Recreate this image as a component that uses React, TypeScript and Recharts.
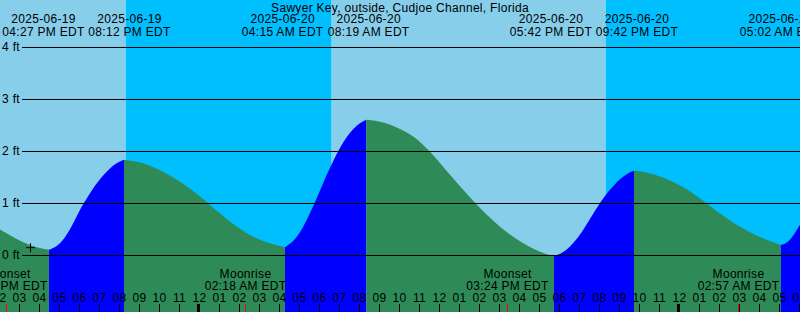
import React from "react"
import {
  ComposedChart,
  Area,
  XAxis,
  YAxis,
  ReferenceArea,
  ReferenceLine,
  ReferenceDot,
} from "recharts"

const WIDTH = 800
const HEIGHT = 312
const FONT = "'Liberation Sans', Arial, sans-serif"

const SKY_DAY = "#87ceeb"
const SKY_NIGHT = "#00bfff"
const RISING = "#0000ff"
const FALLING = "#2e8b57"

const title = "Sawyer Key, outside, Cudjoe Channel, Florida"

// hours relative to 2025-06-20 00:00 EDT
const X_DOMAIN: [number, number] = [-10, 30]
const Y_DOMAIN: [number, number] = [-1.087, 4.913]

// tide height
const tideHours = [
  -10, -9.5, -9, -8.5, -8, -7.55,
  -7.25, -6.92, -6.67, -6.42, -6.17, -5.92, -5.5, -5.17, -4.83, -4.5, -4.17, -3.8,
  -3, -2.5, -1.67, -0.83, 0, 0.5, 1, 1.5, 2, 2.5, 3, 3.5, 4, 4.25,
  4.67, 5, 5.33, 5.67, 6, 6.33, 6.67, 7, 7.33, 7.67, 8, 8.317,
  9, 9.67, 10.5, 11, 11.5, 12, 12.5, 13, 13.5, 14, 14.5, 15, 15.5, 16, 16.5, 17, 17.35, 17.7,
  18, 18.5, 19, 19.5, 20, 20.5, 21, 21.5, 21.7,
  22.5, 23.33, 24.17, 25, 25.83, 26.67, 27.5, 28.33, 29.033,
  29.33, 29.67, 30,
]
const tideFeet = [
  0.5, 0.39, 0.28, 0.2, 0.14, 0.11,
  0.15, 0.26, 0.39, 0.56, 0.75, 0.94, 1.2, 1.39, 1.55, 1.68, 1.78, 1.84,
  1.8, 1.73, 1.58, 1.38, 1.14, 0.97, 0.81, 0.65, 0.51, 0.39, 0.3, 0.23, 0.18, 0.16,
  0.27, 0.43, 0.68, 0.95, 1.25, 1.55, 1.83, 2.07, 2.28, 2.44, 2.55, 2.61,
  2.58, 2.5, 2.34, 2.19, 2.0, 1.78, 1.55, 1.33, 1.12, 0.91, 0.72, 0.55, 0.4, 0.27, 0.16, 0.07, 0.02, 0.0,
  0.02, 0.16, 0.39, 0.7, 1.02, 1.27, 1.48, 1.61, 1.63,
  1.59, 1.48, 1.32, 1.1, 0.85, 0.62, 0.44, 0.3, 0.2,
  0.23, 0.38, 0.59,
]

const extremeHours = [-7.55, -3.8, 4.25, 8.317, 17.7, 21.7, 29.033]
const extremeKinds = ["L", "H", "L", "H", "L", "H", "L"]
const extremeDates = [
  "2025-06-19", "2025-06-19", "2025-06-20", "2025-06-20", "2025-06-20", "2025-06-20", "2025-06-21",
]
const extremeTimes = [
  "04:27 PM EDT", "08:12 PM EDT", "04:15 AM EDT", "08:19 AM EDT", "05:42 PM EDT", "09:42 PM EDT", "05:02 AM EDT",
]

// sunset / sunrise edges of the sky bands
const skyEdges = [-10, -3.717, 6.583, 20.283, 30]
const skyIsDay = [true, false, true, false]

const moonHours = [-9.65, 2.3, 15.4, 26.95]
const moonNames = ["Moonset", "Moonrise", "Moonset", "Moonrise"]
const moonTimes = ["02:21 PM EDT", "02:18 AM EDT", "03:24 PM EDT", "02:57 AM EDT"]

const feetTicks = [0, 1, 2, 3, 4]
const hourTicks = [
  -10, -9, -8, -7, -6, -5, -4, -3, -2, -1, 0, 1, 2, 3, 4, 5, 6, 7, 8, 9, 10,
  11, 12, 13, 14, 15, 16, 17, 18, 19, 20, 21, 22, 23, 24, 25, 26, 27, 28, 29, 30,
]

const nowHour = -8.475
const nowFeet = 0.15

const textStyle = { fontFamily: FONT, fontSize: 12, fill: "#000", letterSpacing: 0.3 }

function hourLabel(h: number) {
  const hod = ((h % 24) + 24) % 24
  const h12 = hod % 12 === 0 ? 12 : hod % 12
  return String(h12).padStart(2, "0")
}

// rising / falling split, extremes belong to both sides
const rows = tideHours.map((t, i) => {
  const v = tideFeet[i]
  const atExtreme = extremeHours.some((e) => Math.abs(e - t) < 1e-6)
  if (atExtreme) return { t, rise: v, fall: v }
  const next = extremeHours.findIndex((e) => e > t)
  const rising =
    next >= 0 ? extremeKinds[next] === "H" : extremeKinds[extremeKinds.length - 1] === "L"
  return { t, rise: rising ? v : null, fall: rising ? null : v }
})

// push the event labels apart so they don't overlap
const LABEL_W = 86
const PX_PER_HOUR = WIDTH / (X_DOMAIN[1] - X_DOMAIN[0])
const labelShift = (() => {
  const centers = extremeHours.map((h) => h * PX_PER_HOUR)
  const shift = extremeHours.map(() => 0)
  for (let i = 1; i < centers.length; i++) {
    const gap = centers[i] + shift[i] - (centers[i - 1] + shift[i - 1])
    if (gap < LABEL_W) {
      const d = (LABEL_W - gap) / 2
      shift[i - 1] -= d
      shift[i] += d
    }
  }
  return shift
})()

export default function App() {
  return (
    <div style={{ position: "absolute", left: 0, top: 0, width: WIDTH, height: HEIGHT }}>
      <ComposedChart
        width={WIDTH}
        height={HEIGHT}
        data={rows}
        margin={{ top: 0, right: 0, bottom: 0, left: 0 }}
      >
        <XAxis dataKey="t" type="number" domain={X_DOMAIN} allowDataOverflow hide />
        <YAxis type="number" domain={Y_DOMAIN} allowDataOverflow hide />

        {skyIsDay.map((day, i) => (
          <ReferenceArea
            key={`sky${i}`}
            x1={skyEdges[i]}
            x2={skyEdges[i + 1]}
            y1={Y_DOMAIN[0]}
            y2={Y_DOMAIN[1]}
            fill={day ? SKY_DAY : SKY_NIGHT}
            fillOpacity={1}
            stroke="none"
            ifOverflow="visible"
            zIndex={-150}
          />
        ))}

        <Area
          dataKey="rise"
          type="basis"
          baseValue="dataMin"
          fill={RISING}
          fillOpacity={1}
          stroke="none"
          isAnimationActive={false}
          activeDot={false}
          dot={false}
        />
        <Area
          dataKey="fall"
          type="basis"
          baseValue="dataMin"
          fill={FALLING}
          fillOpacity={1}
          stroke="none"
          isAnimationActive={false}
          activeDot={false}
          dot={false}
        />

        {feetTicks.map((v) => (
          <ReferenceLine
            key={`grid${v}`}
            segment={[
              { x: -8.9, y: v },
              { x: X_DOMAIN[1], y: v },
            ]}
            stroke="#000"
            strokeWidth={1}
            ifOverflow="visible"
            zIndex={700}
          />
        ))}

        {feetTicks.map((v) => (
          <ReferenceDot
            key={`ylab${v}`}
            x={X_DOMAIN[0]}
            y={v}
            r={0}
            ifOverflow="visible"
            zIndex={800}
            shape={(p: any) => (
              <text x={p.cx + 20} y={p.cy + 3.5} textAnchor="end" style={textStyle}>
                {`${v} ft`}
              </text>
            )}
          />
        ))}

        <ReferenceDot
          x={(X_DOMAIN[0] + X_DOMAIN[1]) / 2}
          y={Y_DOMAIN[1]}
          r={0}
          ifOverflow="visible"
          zIndex={800}
          shape={(p: any) => (
            <text x={p.cx} y={p.cy + 11.5} textAnchor="middle" style={textStyle}>
              {title}
            </text>
          )}
        />

        {extremeHours.map((h, i) => (
          <ReferenceDot
            key={`ev${i}`}
            x={h}
            y={Y_DOMAIN[1]}
            r={0}
            ifOverflow="visible"
            zIndex={800}
            shape={(p: any) => (
              <g>
                <text x={p.cx + labelShift[i]} y={p.cy + 23.3} textAnchor="middle" style={textStyle}>
                  {extremeDates[i]}
                </text>
                <text x={p.cx + labelShift[i]} y={p.cy + 35.7} textAnchor="middle" style={textStyle}>
                  {extremeTimes[i]}
                </text>
              </g>
            )}
          />
        ))}

        {moonHours.map((h, i) => (
          <ReferenceDot
            key={`moon${i}`}
            x={h}
            y={Y_DOMAIN[0]}
            r={0}
            ifOverflow="visible"
            zIndex={800}
            shape={(p: any) => (
              <g>
                <text x={p.cx - 0.5} y={p.cy - 34} textAnchor="middle" style={textStyle}>
                  {moonNames[i]}
                </text>
                <text x={p.cx - 0.5} y={p.cy - 22} textAnchor="middle" style={textStyle}>
                  {moonTimes[i]}
                </text>
                <line x1={p.cx - 0.5} x2={p.cx - 0.5} y1={p.cy - 8} y2={p.cy} stroke="#ff0000" />
              </g>
            )}
          />
        ))}

        {hourTicks.map((h) => (
          <ReferenceDot
            key={`hr${h}`}
            x={h}
            y={Y_DOMAIN[0]}
            r={0}
            ifOverflow="visible"
            zIndex={800}
            shape={(p: any) => (
              <g>
                <text x={p.cx - 0.5} y={p.cy - 10} textAnchor="middle" style={textStyle}>
                  {hourLabel(h)}
                </text>
                {((h % 24) + 24) % 24 === 0 ? (
                  <rect x={p.cx - 3} y={p.cy - 8} width={3} height={8} fill="#000" />
                ) : (
                  <line x1={p.cx - 0.5} x2={p.cx - 0.5} y1={p.cy - 8} y2={p.cy} stroke="#000" />
                )}
              </g>
            )}
          />
        ))}

        <ReferenceDot
          x={nowHour}
          y={nowFeet}
          r={0}
          ifOverflow="visible"
          zIndex={800}
          shape={(p: any) => (
            <g stroke="#000" strokeWidth={1}>
              <line x1={p.cx - 4.5} x2={p.cx + 4.5} y1={p.cy} y2={p.cy} />
              <line x1={p.cx} x2={p.cx} y1={p.cy - 4.5} y2={p.cy + 4.5} />
            </g>
          )}
        />
      </ComposedChart>
    </div>
  )
}
